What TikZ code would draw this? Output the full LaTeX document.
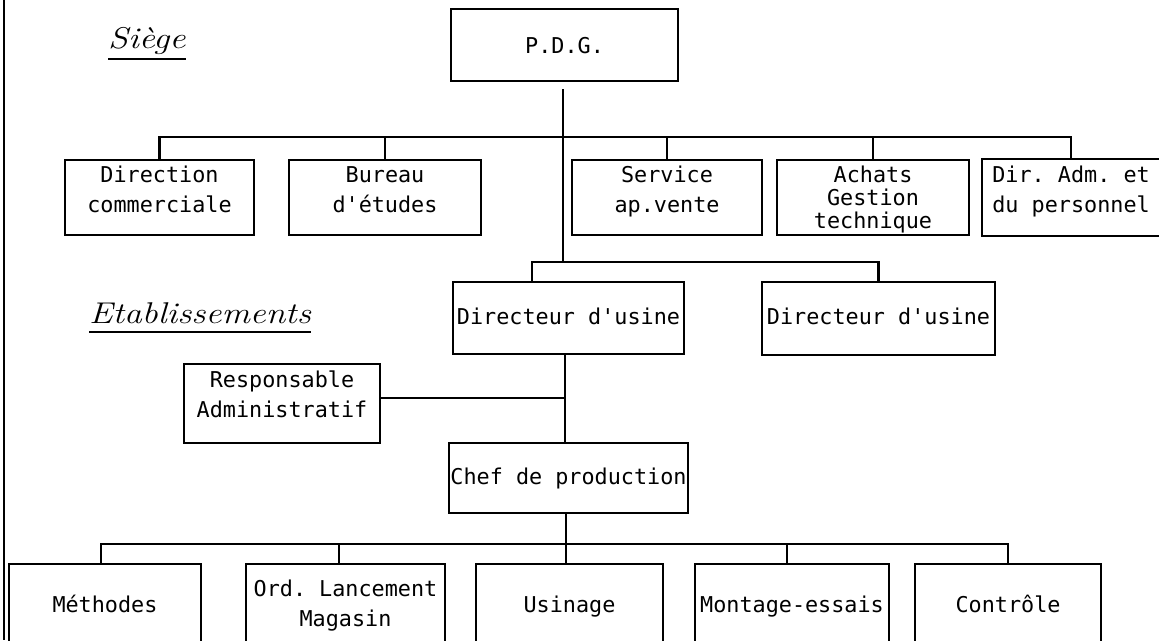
\documentclass[tikz,border=0pt]{standalone}
\usepackage{fontspec}
\usepackage{graphicx}
\setmonofont{DejaVu Sans Mono}

\begin{document}
\begin{tikzpicture}[x=1pt, y=-1pt,
  box/.style={draw, rectangle, line width=2.2pt, inner sep=0pt, align=center,
    font=\ttfamily\fontsize{21.8}{30}\selectfont},
  toprow/.style={box, minimum height=75pt, text height=46pt, text depth=17pt},
  lowrow/.style={box, draw=none, minimum height=75pt, text height=20pt, text depth=1pt},
  oneline/.style={box, text height=16pt, text depth=4pt},
  link/.style={line width=2.2pt},
  heading/.style={inner sep=0pt, anchor=base west,
    font=\fontsize{30}{36}\selectfont\itshape}]

\useasboundingbox (0,0) rectangle (1159,640);

% page margin rule
\draw[link] (4,0) -- (4,640);

% headquarters
\node[box, minimum width=227pt, minimum height=72pt, text height=16pt, text depth=0pt]
  (pdg) at (564.5,45) {P.D.G.};

\node[toprow, minimum width=189pt] (dc)  at (159.5,197.5) {Direction\\commerciale};
\node[toprow, minimum width=192pt] (be)  at (385,197.5)   {Bureau\\d'études};
\node[toprow, minimum width=190pt] (sav) at (667,197.5)   {Service\\ap.vente};
\node[toprow, minimum width=192pt, font=\ttfamily\fontsize{21.8}{23}\selectfont,
  text height=62pt, text depth=1pt] (ach) at (873,197.5) {Achats\\Gestion\\technique};
\node[toprow, draw=none, minimum width=176pt] (dap) at (1071,197.5) {Dir. Adm. et\\du personnel};
\draw[link] (dap.north east) -| (dap.south west) -- (dap.south east);

% plants
\node[oneline, minimum width=231pt, minimum height=72pt] (dir1) at (568.5,318) {Directeur d'usine};
\node[oneline, minimum width=233pt, minimum height=73pt, text depth=5pt] (dir2) at (878.5,318.5) {Directeur d'usine};
\node[box, minimum width=196pt, minimum height=79pt, text height=46pt, text depth=19pt]
  (resp) at (282,403.5) {Responsable\\Administratif};
\node[oneline, minimum width=239pt, minimum height=70pt] (chef) at (568.5,478) {Chef de production};

% workshops (open at the bottom edge)
\node[lowrow, minimum width=190pt] (meth) at (105,602.5)   {Méthodes};
\node[lowrow, minimum width=197pt, text height=50pt, text depth=3pt]
  (ord) at (345.5,602.5) {Ord. Lancement\\Magasin};
\node[lowrow, minimum width=185pt] (usi)  at (569.5,602.5) {Usinage};
\node[lowrow, minimum width=192pt] (mont) at (792,602.5)   {Montage-essais};
\node[lowrow, minimum width=184pt] (ctl)  at (1008,602.5)  {Contrôle};
\foreach \n in {meth,ord,usi,mont,ctl}
  \draw[link] (\n.south west) |- (\n.north east) -- (\n.south east);

% section headings
\node[heading] (siege) at (108,48) {\scalebox{1.2}[1]{Siège}};
\draw[line width=1.6pt] ([yshift=-11pt]siege.base west) -- ([yshift=-11pt]siege.base east);
\node[heading] (etab) at (89,323) {\scalebox{1.18}[1]{Etablissements}};
\draw[line width=1.6pt] ([yshift=-9pt]etab.base west) -- ([yshift=-9pt]etab.base east);

% connectors
\coordinate (tb) at (0,137);
\coordinate (db) at (563,262);
\coordinate (bb) at (0,544);

\draw[link] (dc.north) -- (dc.north |- tb) -| (dap.north);
\foreach \n in {be,sav,ach}
  \draw[link] (\n.north) -- (\n.north |- tb);

\draw[link] ([xshift=-1.5pt,yshift=-7pt]pdg.south) -- (db);
\draw[link] ([xshift=-36.5pt]dir1.north) |- (db) -| (dir2.north);

\coordinate (cn) at ([xshift=-3.5pt]chef.north);
\draw[link] ([xshift=-3.5pt]dir1.south) -- (cn);
\draw[link] ([yshift=5.5pt]resp.east) coordinate (ra) -- (ra -| cn);

\coordinate (cs) at ([xshift=-2.5pt]chef.south);
\draw[link] (cs) -- (cs |- usi.north);
\draw[link] ([xshift=-4pt]meth.north) -- ([xshift=-4pt]meth.north |- bb) -| (ctl.north);
\coordinate (od) at ([xshift=-6.5pt]ord.north);
\draw[link] (od) -- (od |- bb);
\coordinate (md) at ([xshift=-5pt]mont.north);
\draw[link] (md) -- (md |- bb);
\end{tikzpicture}
\end{document}
